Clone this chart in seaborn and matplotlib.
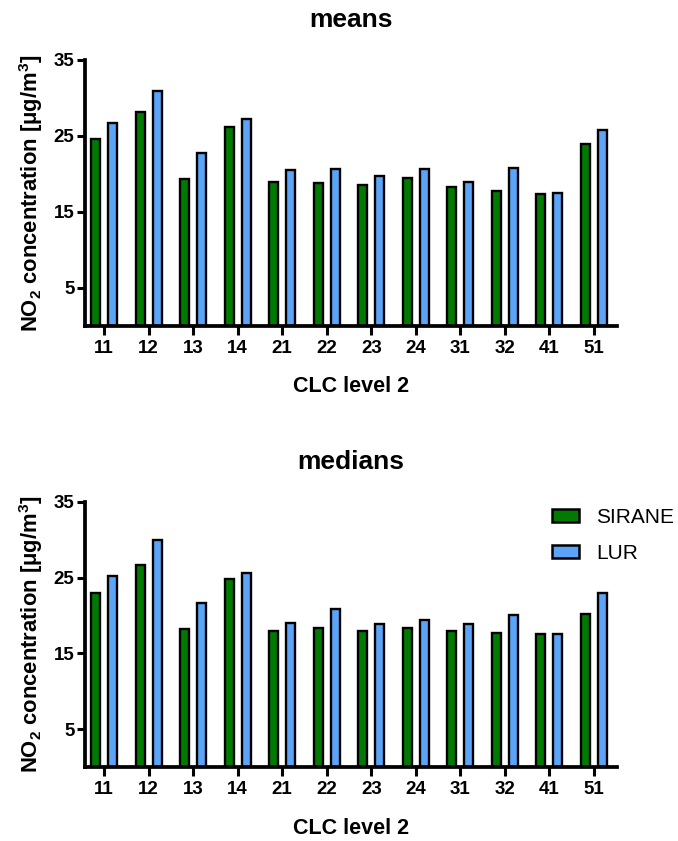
import matplotlib
matplotlib.use("Agg")
import matplotlib.pyplot as plt
import seaborn as sns
import pandas as pd
from matplotlib.patches import Patch

categories = ["11", "12", "13", "14", "21", "22", "23", "24", "31", "32", "41", "51"]
means_sirane = [24.6, 28.1, 19.3, 26.2, 18.9, 18.8, 18.6, 19.5, 18.3, 17.8, 17.4, 24.0]
means_lur = [26.7, 30.9, 22.7, 27.3, 20.5, 20.7, 19.7, 20.7, 18.9, 20.8, 17.5, 25.8]
medians_sirane = [22.9, 26.7, 18.2, 24.8, 18.0, 18.4, 17.9, 18.3, 17.9, 17.7, 17.5, 20.2]
medians_lur = [25.2, 29.9, 21.7, 25.6, 19.0, 20.8, 18.8, 19.4, 18.8, 20.0, 17.6, 22.9]
series = ["SIRANE", "LUR"]
colors = {"SIRANE": "#007A00", "LUR": "#5CA4F7"}
yticks = [5, 15, 25, 35]

sns.set_theme(style="ticks")
plt.rcParams['font.family'] = ['Liberation Sans', 'DejaVu Sans']
plt.rcParams.update({"text.color": "black", "axes.labelcolor": "black",
                     "xtick.color": "black", "ytick.color": "black",
                     "mathtext.default": "regular"})

fig = plt.figure(figsize=(6.78, 8.41), dpi=100)
L, R = 85 / 678, 617 / 678
ax1 = fig.add_axes([L, 1 - 326 / 841, R - L, (326 - 60) / 841])
ax2 = fig.add_axes([L, 1 - 767 / 841, R - L, (767 - 501.7) / 841])
xc = (85 + 617) / 2 / 678


def make_df(a, b):
    return pd.DataFrame({
        "CLC": categories * 2,
        "model": [series[0]] * len(categories) + [series[1]] * len(categories),
        "value": list(a) + list(b),
    })


for ax, (a, b), title, off in [
    (ax1, (means_sirane, means_lur), "means", 0),
    (ax2, (medians_sirane, medians_lur), "medians", 441.7),
]:
    df = make_df(a, b)
    sns.barplot(data=df, x="CLC", y="value", hue="model", hue_order=series,
                palette=colors, width=0.76, gap=0.47, edgecolor="black",
                linewidth=1.7, ax=ax, legend=False, saturation=1)
    ax.set_ylim(0, 35)
    ax.set_yticks(yticks)
    ax.set_xlim(-0.43, 11.52)
    for s in ["top", "right"]:
        ax.spines[s].set_visible(False)
    for s in ["left", "bottom"]:
        ax.spines[s].set_linewidth(2.7)
        ax.spines[s].set_color("black")
    ax.tick_params(axis="y", length=5.5, width=2.2, labelsize=13.5, pad=2)
    ax.tick_params(axis="x", length=6.5, width=2.2, labelsize=13.5, pad=3.5)
    for lab in ax.get_xticklabels() + ax.get_yticklabels():
        lab.set_fontweight("bold")
    ax.set_ylabel("NO$_2$ concentration [μg/m$^3$]", fontsize=15.8,
                  fontweight="bold")
    ax.yaxis.set_label_coords(-0.075, 0.5)
    ax.set_xlabel("")
    fig.text(xc, 1 - (27 + off) / 841, title, ha="center", va="baseline",
             fontsize=19, fontweight="bold")
    fig.text(xc, 1 - (392.3 + off) / 841, "CLC level 2", ha="center",
             va="baseline", fontsize=15.5, fontweight="bold")
    ax.set_facecolor("white")

handles = [Patch(facecolor=colors[s], edgecolor="black", linewidth=1.8, label=s)
           for s in series]
fig.legend(handles=handles, loc="upper left",
           bbox_to_anchor=(551.7 / 678, 1 - 508 / 841),
           frameon=False, fontsize=15, handlelength=1.3, handleheight=0.62,
           labelspacing=0.8, handletextpad=0.85, borderpad=0, borderaxespad=0)

fig.savefig("out.png", dpi=100, facecolor="white")
